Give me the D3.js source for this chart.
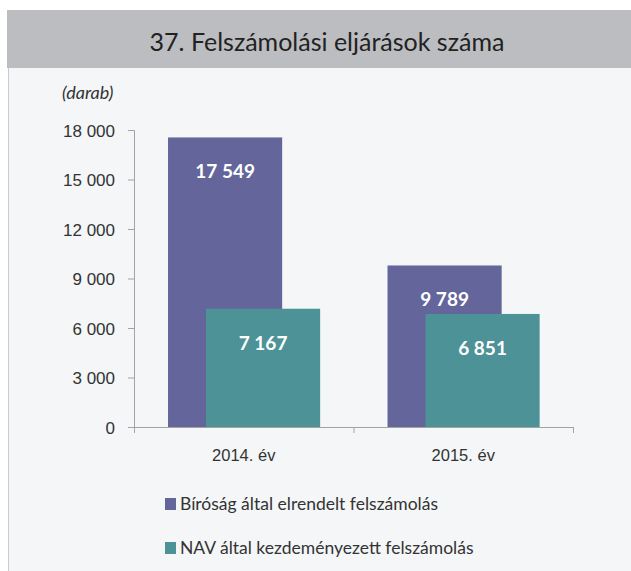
<!DOCTYPE html>
<html>
<head>
<meta charset="utf-8">
<script src="https://cdn.jsdelivr.net/npm/d3@7"></script>
<style>
  body { margin: 0; background: #fff; }
  svg { display: block; font-family: Lato, "Open Sans", sans-serif; }
</style>
</head>
<body>
<svg id="chart" width="631" height="571"></svg>
<script>
// Data
const title = '37. Felszámolási eljárások száma';
const unitLabel = '(darab)';
const years = ['2014. év', '2015. év'];
const seriesNames = ['Bíróság által elrendelt felszámolás', 'NAV által kezdeményezett felszámolás'];
const courtValues = [17549, 9789];
const navValues = [7167, 6851];
const yTicks = [0, 3000, 6000, 9000, 12000, 15000, 18000];
const colors = ['#63659b', '#4d9296'];

const series = [courtValues, navValues];

const svg = d3.select('#chart');
const fmt = v => d3.format(',')(v).replace(/,/g, ' ');

// panel background + title band
svg.append('rect').attr('x', 8).attr('y', 10).attr('width', 623).attr('height', 561).attr('fill', '#f4f6f7');
svg.append('line').attr('x1', 8.5).attr('x2', 8.5).attr('y1', 68).attr('y2', 571).attr('stroke', '#c9cacc');
svg.append('rect').attr('x', 7).attr('y', 10).attr('width', 624).attr('height', 58).attr('fill', '#bcbdc0');
svg.append('text').attr('x', 327).attr('y', 51).attr('text-anchor', 'middle')
    .attr('font-size', 25).attr('fill', '#222').text(title);

const margin = { top: 130, left: 134, right: 58, bottom: 144 };
const width = 631 - margin.left - margin.right;
const height = 571 - margin.top - margin.bottom;

const g = svg.append('g').attr('transform', `translate(${margin.left},${margin.top})`);

const x = d3.scaleBand().domain(years).range([0, width]).paddingInner(0).paddingOuter(0);
const y = d3.scaleLinear().domain([0, 18000]).range([height, 0]);

// bars overlap: second series shifted right by a fixed step
const groupPad = x.bandwidth() * 0.155;
const barW = x.bandwidth() * 0.52;
const xs = d3.scaleLinear().domain([0, 1]).range([groupPad, groupPad + x.bandwidth() * 0.173]);

// y axis
const yAxis = g.append('g')
    .call(d3.axisLeft(y).tickValues(yTicks).tickFormat(fmt).tickSize(6).tickPadding(13));
yAxis.select('.domain').attr('stroke', '#a3a3a3').attr('d', `M-6,0.5H0.5V${height}`);
yAxis.selectAll('.tick line').attr('stroke', '#a3a3a3');
yAxis.selectAll('.tick text').attr('font-size', 17).attr('fill', '#333').attr('dy', '0.36em');

// x axis
const xAxis = g.append('g').attr('transform', `translate(0,${height})`)
    .call(d3.axisBottom(x).tickSize(0).tickPadding(22));
xAxis.select('.domain').attr('stroke', '#a3a3a3');
xAxis.selectAll('.tick text').attr('font-size', 16.5).attr('fill', '#333');
g.append('g').attr('transform', `translate(0,${height})`)
    .selectAll('line').data([0, ...years.map(d => x(d) + x.bandwidth())]).join('line')
    .attr('x1', d => d + 0.5).attr('x2', d => d + 0.5).attr('y1', 0).attr('y2', 6)
    .attr('stroke', '#a3a3a3');

// bars
series.forEach((vals, si) => {
    const sg = g.append('g');
    sg.selectAll('rect').data(vals).join('rect')
        .attr('x', (d, i) => x(years[i]) + xs(si))
        .attr('y', d => y(d))
        .attr('width', barW)
        .attr('height', d => y(0) - y(d))
        .attr('fill', colors[si]);
    sg.selectAll('text').data(vals).join('text')
        .attr('x', (d, i) => x(years[i]) + xs(si) + barW / 2)
        .attr('y', d => y(d) + 41)
        .attr('text-anchor', 'middle')
        .attr('font-size', 19).attr('font-weight', 'bold').attr('fill', '#fff')
        .text(fmt);
});

// unit label
svg.append('text').attr('x', 62).attr('y', 99).attr('font-size', 18)
    .attr('font-style', 'italic').attr('fill', '#333').text(unitLabel);

// legend
const legend = svg.append('g').attr('transform', 'translate(165,498)');
seriesNames.forEach((name, i) => {
    const row = legend.append('g').attr('transform', `translate(0,${i * 44})`);
    row.append('rect').attr('width', 11).attr('height', 12).attr('fill', colors[i]);
    row.append('text').attr('x', 15).attr('y', 12).attr('font-size', 17.5).attr('fill', '#333').text(name);
});
</script>
</body>
</html>
